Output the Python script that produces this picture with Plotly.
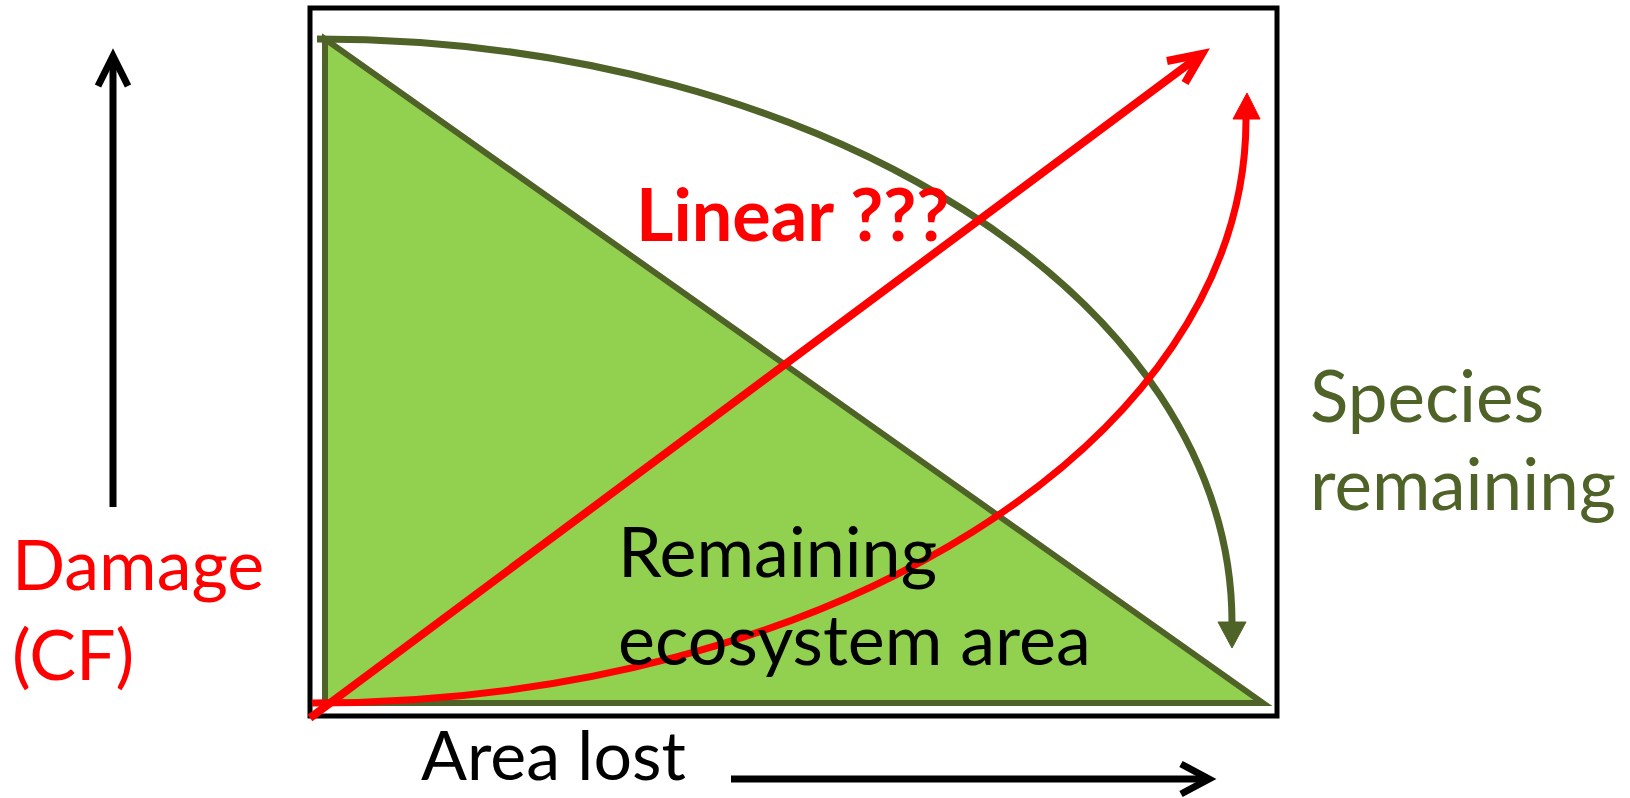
import plotly.graph_objects as go

W, H = 1630, 798
K = 0.5523  # cubic-bezier quarter-ellipse handle factor

# ---- diagram anchor points (pixel space, y downward) ----
box_x = [310, 1277]
box_y = [8, 716]

triangle_x = [325, 325, 1263]
triangle_y = [39, 703, 703]

species_curve_start = [317, 39]     # horizontal tangent
species_curve_end = [1232, 623]     # vertical tangent
species_head = [[1218, 622], [1246, 622], [1232, 648]]

linear_x = [310, 1202]
linear_y = [718, 54]
linear_head = [[1167, 61], [1202, 54], [1185, 83]]

damage_curve_start = [312, 703]
damage_curve_end = [1246, 119]
damage_head = [[1233, 119], [1260, 119], [1247, 93]]

yarrow_x = [113, 113]
yarrow_y = [507, 58]
yarrow_head = [[98, 86], [113, 56], [128, 86]]

xarrow_x = [731, 1206]
xarrow_y = [779, 779]
xarrow_head = [[1181, 764], [1209, 779], [1181, 794]]

# text labels: (text, left x, baseline y)
labels_red = [("Damage", 10, 585), ("(CF)", 10, 675)]
labels_species = [("Species", 1308, 417), ("remaining", 1308, 505)]
labels_area = [("Remaining", 616, 572), ("ecosystem area", 616, 660)]
label_linear = ("Linear ???", 634, 235)
label_x = ("Area lost", 419, 775)

DARK_GREEN = "#4f6228"
LIGHT_GREEN = "#92d050"
RED = "#ff0000"
FONT = "Lato"

fig = go.Figure()
shapes = []

def poly(pts, closed=False):
    s = "M " + " L ".join(f"{x},{y}" for x, y in pts)
    return s + (" Z" if closed else "")

def quarter(p0, p3):
    x0, y0 = p0
    x3, y3 = p3
    c1 = (x0 + K * (x3 - x0), y0)
    c2 = (x3, y3 - K * (y3 - y0))
    return f"M {x0},{y0} C {c1[0]},{c1[1]} {c2[0]},{c2[1]} {x3},{y3}"

# outer box
shapes.append(dict(type="rect", xref="x", yref="y", x0=box_x[0], x1=box_x[1],
                   y0=box_y[0], y1=box_y[1], line=dict(color="black", width=5),
                   fillcolor="rgba(0,0,0,0)"))
# green triangle
shapes.append(dict(type="path", xref="x", yref="y",
                   path=poly(list(zip(triangle_x, triangle_y)), closed=True),
                   fillcolor=LIGHT_GREEN, line=dict(color=DARK_GREEN, width=6)))
# species remaining curve
shapes.append(dict(type="path", xref="x", yref="y",
                   path=quarter(species_curve_start, species_curve_end),
                   line=dict(color=DARK_GREEN, width=7)))
shapes.append(dict(type="path", xref="x", yref="y", path=poly(species_head, closed=True),
                   fillcolor=DARK_GREEN, line=dict(color=DARK_GREEN, width=1)))
# damage curve (convex)
shapes.append(dict(type="path", xref="x", yref="y",
                   path=quarter(damage_curve_start, damage_curve_end),
                   line=dict(color=RED, width=7)))
shapes.append(dict(type="path", xref="x", yref="y", path=poly(damage_head, closed=True),
                   fillcolor=RED, line=dict(color=RED, width=1)))
# linear line
shapes.append(dict(type="line", xref="x", yref="y", x0=linear_x[0], y0=linear_y[0],
                   x1=linear_x[1], y1=linear_y[1], line=dict(color=RED, width=8)))
shapes.append(dict(type="path", xref="x", yref="y", path=poly(linear_head),
                   line=dict(color=RED, width=8)))
# y arrow
shapes.append(dict(type="line", xref="x", yref="y", x0=yarrow_x[0], y0=yarrow_y[0],
                   x1=yarrow_x[1], y1=yarrow_y[1], line=dict(color="black", width=7)))
shapes.append(dict(type="path", xref="x", yref="y", path=poly(yarrow_head),
                   line=dict(color="black", width=7)))
# x arrow
shapes.append(dict(type="line", xref="x", yref="y", x0=xarrow_x[0], y0=xarrow_y[0],
                   x1=xarrow_x[1], y1=xarrow_y[1], line=dict(color="black", width=7)))
shapes.append(dict(type="path", xref="x", yref="y", path=poly(xarrow_head),
                   line=dict(color="black", width=7)))

# ---- texts ----
def label(item, color, size, bold=False):
    text, x, base = item
    return dict(x=x, y=base - 0.31 * size, xref="x", yref="y",
                text=f"<b>{text}</b>" if bold else text,
                showarrow=False, xanchor="left", yanchor="middle", align="left",
                font=dict(family=FONT, size=size, color=color))

annotations = [label(label_linear, RED, 72, bold=True), label(label_x, "black", 68)]
annotations += [label(it, RED, 70) for it in labels_red]
annotations += [label(it, DARK_GREEN, 71) for it in labels_species]
annotations += [label(it, "black", 70) for it in labels_area]

fig.add_trace(go.Scatter(x=[0, W], y=[0, H], mode="markers",
                         marker=dict(opacity=0), hoverinfo="skip", showlegend=False))

fig.update_layout(
    width=W, height=H, margin=dict(l=0, r=0, t=0, b=0),
    paper_bgcolor="white", plot_bgcolor="white",
    xaxis=dict(range=[0, W], visible=False, fixedrange=True),
    yaxis=dict(range=[H, 0], visible=False, fixedrange=True),
    shapes=shapes, annotations=annotations, showlegend=False,
)

fig.write_html("out.html", config={"displayModeBar": False},
               post_script="document.body.style.margin='0';document.body.style.overflow='hidden';")
